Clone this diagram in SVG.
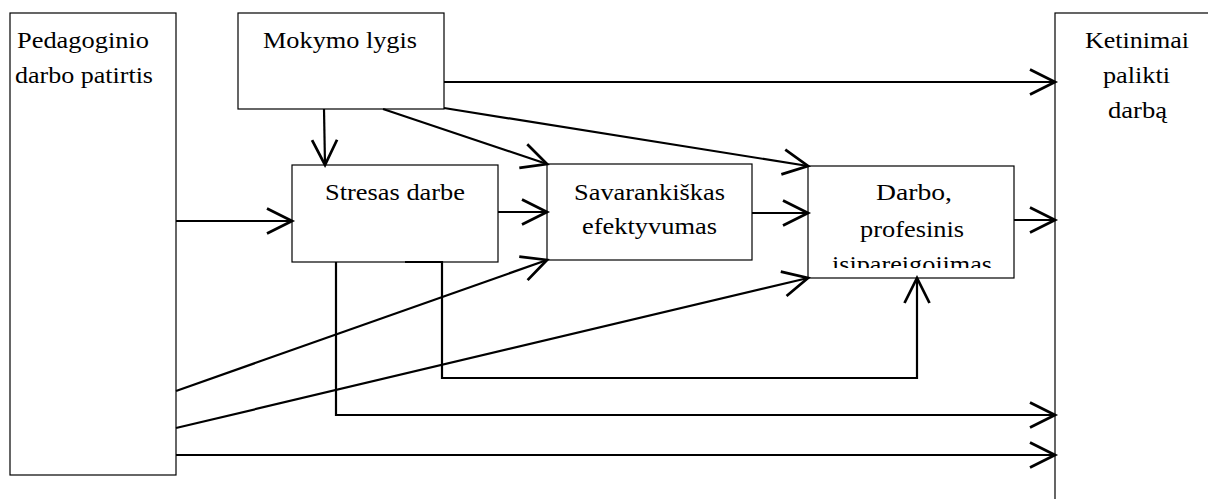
<svg xmlns="http://www.w3.org/2000/svg" width="1208" height="499" viewBox="0 0 1208 499">
<style>
.box{fill:#fff;stroke:#000;stroke-width:1.2}
.c{fill:none;stroke:#000;stroke-width:2.2}
</style>
<defs>
<marker id="a" markerUnits="userSpaceOnUse" markerWidth="30" markerHeight="30" refX="0" refY="0" viewBox="-22 -12 24 24" orient="auto" overflow="visible">
<path d="M-20,-10 L0,0 L-20,10" fill="none" stroke="#000" stroke-width="2.2"/>
</marker>
<clipPath id="dclip"><rect x="808" y="166" width="206" height="102"/></clipPath>
</defs>
<rect width="1208" height="499" fill="#fff"/>
<g id="pedagoginio">
<rect class="box" x="10" y="13" width="166" height="462"/>
<text font-family="Liberation Serif" font-size="24" x="17" y="48" textLength="132" lengthAdjust="spacingAndGlyphs">Pedagoginio</text>
<text font-family="Liberation Serif" font-size="24" x="15" y="83" textLength="138" lengthAdjust="spacingAndGlyphs">darbo patirtis</text>
</g>
<g id="mokymo">
<rect class="box" x="238" y="13" width="206" height="96"/>
<text font-family="Liberation Serif" font-size="24" x="263" y="48" textLength="154" lengthAdjust="spacingAndGlyphs">Mokymo lygis</text>
</g>
<g id="stresas">
<rect class="box" x="292" y="165" width="206" height="97"/>
<text font-family="Liberation Serif" font-size="24" x="325" y="200" textLength="140" lengthAdjust="spacingAndGlyphs">Stresas darbe</text>
</g>
<g id="savarankiskas">
<rect class="box" x="547" y="164" width="205" height="96"/>
<text font-family="Liberation Serif" font-size="24" x="574" y="200" textLength="151" lengthAdjust="spacingAndGlyphs">Savarankiškas</text>
<text font-family="Liberation Serif" font-size="24" x="582" y="234" textLength="135" lengthAdjust="spacingAndGlyphs">efektyvumas</text>
</g>
<g id="darbo">
<rect class="box" x="808" y="166" width="206" height="112"/>
<text font-family="Liberation Serif" font-size="24" x="876" y="200" textLength="76" lengthAdjust="spacingAndGlyphs">Darbo,</text>
<text font-family="Liberation Serif" font-size="24" x="860" y="237" textLength="104" lengthAdjust="spacingAndGlyphs">profesinis</text>
<text font-family="Liberation Serif" font-size="24" x="832" y="272" textLength="160" lengthAdjust="spacingAndGlyphs" clip-path="url(#dclip)">įsipareigojimas</text>
</g>
<g id="ketinimai">
<rect class="box" x="1055" y="13" width="170" height="500"/>
<text font-family="Liberation Serif" font-size="24" x="1085" y="48" textLength="104" lengthAdjust="spacingAndGlyphs">Ketinimai</text>
<text font-family="Liberation Serif" font-size="24" x="1103" y="83" textLength="67" lengthAdjust="spacingAndGlyphs">palikti</text>
<text font-family="Liberation Serif" font-size="24" x="1108" y="118" textLength="59" lengthAdjust="spacingAndGlyphs">darbą</text>
</g>
<g id="connectors">
<path class="c" d="M444,82 L1055,82" marker-end="url(#a)"/>
<path class="c" d="M324,109 L325,165" marker-end="url(#a)"/>
<path class="c" d="M383,109 L547,164" marker-end="url(#a)"/>
<path class="c" d="M444,108 L808,166" marker-end="url(#a)"/>
<path class="c" d="M176,221 L292,221" marker-end="url(#a)"/>
<path class="c" d="M498,212 L547,212" marker-end="url(#a)"/>
<path class="c" d="M752,213 L808,213" marker-end="url(#a)"/>
<path class="c" d="M1014,220 L1055,220" marker-end="url(#a)"/>
<path class="c" d="M176,391 L547,260" marker-end="url(#a)"/>
<path class="c" d="M176,428 L808,278" marker-end="url(#a)"/>
<path class="c" d="M176,455 L1055,455" marker-end="url(#a)"/>
<path class="c" d="M336,262 L336,415 L1055,415" marker-end="url(#a)"/>
<path class="c" d="M405,262 L442,262 L442,378 L917,378 L917,278" marker-end="url(#a)"/>
</g>
</svg>
